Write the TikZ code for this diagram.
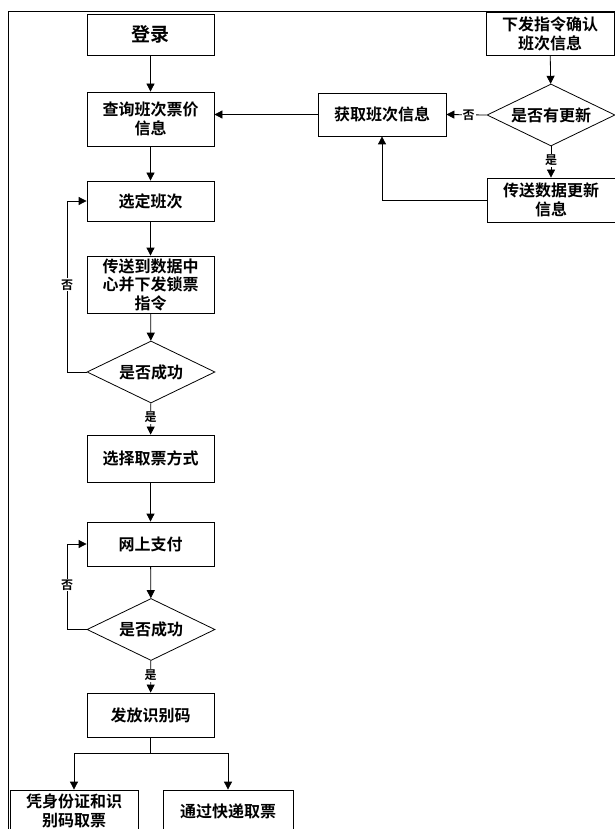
\documentclass[tikz,border=0pt]{standalone}
\usepackage{fontspec}
\newfontfamily\cjk{Noto Sans CJK SC Bold}
\usetikzlibrary{shapes.geometric,arrows.meta}
\begin{document}
\begin{tikzpicture}[x=1pt,y=-1pt,
  every node/.style={font=\cjk\fontsize{16}{19}\selectfont},
  box/.style={draw,line width=0.8pt,minimum width=127pt,inner sep=1pt,align=center},
  dec/.style={draw,diamond,line width=0.8pt,minimum width=128pt,minimum height=62pt,inner sep=0pt,aspect=2},
  lab/.style={fill=white,inner sep=1pt,font=\cjk\fontsize{12}{13}\selectfont},
  arr/.style={line width=0.8pt,-{Triangle[width=8pt,length=8pt]}},
  ln/.style={line width=0.8pt}]
\useasboundingbox (0,0) rectangle (615,829);
\clip (0,0) rectangle (615,829);
% outer frame
\draw[ln] (8,829) -- (8,11) -- (615,11);
% left column
\node[box,minimum height=41pt,font=\cjk\fontsize{19}{21}\selectfont] (login) at (150.5,34.5) {登录};
\node[box,minimum height=54pt] (query) at (150.5,119) {查询班次票价\\信息};
\node[box,minimum height=40pt] (select) at (150.5,201) {选定班次};
\node[box,minimum height=57pt,font=\cjk\fontsize{16}{18.5}\selectfont] (send) at (150.5,284.5) {传送到数据中\\心并下发锁票\\指令};
\node[dec] (d1) at (151,372) {是否成功};
\node[box,minimum height=47pt] (choose) at (150.5,458.5) {选择取票方式};
\node[box,minimum height=44pt] (pay) at (150.5,544) {网上支付};
\node[dec] (d2) at (151,629.5) {是否成功};
\node[box,minimum height=44pt] (issue) at (150.5,715) {发放识别码};
\node[box,minimum width=128pt,minimum height=42pt] (self) at (74,811) {凭身份证和识\\别码取票};
\node[box,minimum width=130pt,minimum height=42pt] (post) at (228,811) {通过快递取票};
% right column
\node[box,minimum width=128pt,minimum height=43pt] (cmd) at (550,33.5) {下发指令确认\\班次信息};
\node[dec] (d3) at (551,115) {是否有更新};
\node[box,minimum width=128pt,minimum height=43pt] (fetch) at (382,114.5) {获取班次信息};
\node[box,minimum width=128pt,minimum height=44pt] (upd) at (551,200) {传送数据更新\\信息};
% connectors left
\draw[arr] (login) -- (query);
\draw[arr] (query) -- (select);
\draw[arr] (select) -- (send);
\draw[arr] (send) -- (d1);
\draw[arr] (d1) -- node[lab,pos=0.45]{是} (choose);
\draw[arr] (choose) -- (pay);
\draw[arr] (pay) -- (d2);
\draw[arr] (d2) -- node[lab,pos=0.45]{是} (issue);
\draw[arr] (d1.west) -- (67,372) -- node[lab,pos=0.51]{否} (67,201) -- (select.west);
\draw[arr] (d2.west) -- (67,629.5) -- node[lab,pos=0.52]{否} (67,544) -- (pay.west);
\coordinate (br) at (150.5,753);
\draw[ln] (issue.south) -- (br);
\draw[arr] (br) -| (self.north);
\draw[arr] (br) -| (post.north);
% connectors right
\draw[arr] (cmd) -- (d3);
\draw[arr] (d3) -- node[lab,pos=0.45]{是} (upd);
\draw[arr] (d3.west) -- node[lab,pos=0.45]{否} (fetch.east);
\draw[arr] (upd.west) -- (382,200) -- (fetch.south);
\draw[arr] (fetch.west) -- (query.east |- fetch.west);
\end{tikzpicture}
\end{document}
